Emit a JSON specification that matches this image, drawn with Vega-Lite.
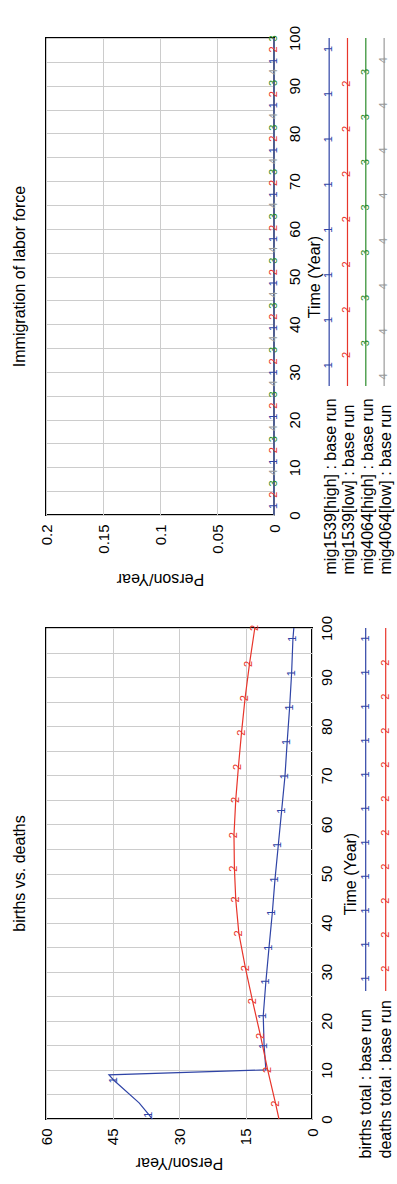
{
  "$schema": "https://vega.github.io/schema/vega-lite/v6.json",
  "autosize": {"type": "pad"},
  "padding": {"left": 10, "top": 24, "right": 0, "bottom": 0},
  "background": "white",
  "datasets": {
    "bd": [
      {"series": "births total : base run", "t": 0, "v": 36.0},
      {"series": "births total : base run", "t": 0.9, "v": 36.8, "m": "1"},
      {"series": "births total : base run", "t": 3.3, "v": 39.0},
      {"series": "births total : base run", "t": 7.9, "v": 44.7, "m": "1"},
      {"series": "births total : base run", "t": 9, "v": 45.8},
      {"series": "births total : base run", "t": 10, "v": 10.4},
      {"series": "births total : base run", "t": 14.9, "v": 10.8, "m": "1"},
      {"series": "births total : base run", "t": 21, "v": 11.0, "m": "1"},
      {"series": "births total : base run", "t": 28, "v": 10.4, "m": "1"},
      {"series": "births total : base run", "t": 34.9, "v": 9.7, "m": "1"},
      {"series": "births total : base run", "t": 42, "v": 8.95, "m": "1"},
      {"series": "births total : base run", "t": 48.8, "v": 8.35, "m": "1"},
      {"series": "births total : base run", "t": 55.8, "v": 7.6, "m": "1"},
      {"series": "births total : base run", "t": 62.8, "v": 6.85, "m": "1"},
      {"series": "births total : base run", "t": 69.8, "v": 6.1, "m": "1"},
      {"series": "births total : base run", "t": 76.8, "v": 5.6, "m": "1"},
      {"series": "births total : base run", "t": 83.8, "v": 5.05, "m": "1"},
      {"series": "births total : base run", "t": 90.8, "v": 4.6, "m": "1"},
      {"series": "births total : base run", "t": 97.8, "v": 4.3, "m": "1"},
      {"series": "births total : base run", "t": 100, "v": 4.1},
      {"series": "deaths total : base run", "t": 0, "v": 7.45},
      {"series": "deaths total : base run", "t": 3.1, "v": 8.2, "m": "2"},
      {"series": "deaths total : base run", "t": 10, "v": 10.0, "m": "2"},
      {"series": "deaths total : base run", "t": 16.9, "v": 11.6, "m": "2"},
      {"series": "deaths total : base run", "t": 24, "v": 13.4, "m": "2"},
      {"series": "deaths total : base run", "t": 30.7, "v": 15.0, "m": "2"},
      {"series": "deaths total : base run", "t": 37.8, "v": 16.5, "m": "2"},
      {"series": "deaths total : base run", "t": 44.7, "v": 17.2, "m": "2"},
      {"series": "deaths total : base run", "t": 51, "v": 17.5, "m": "2"},
      {"series": "deaths total : base run", "t": 57.8, "v": 17.6, "m": "2"},
      {"series": "deaths total : base run", "t": 65, "v": 17.2, "m": "2"},
      {"series": "deaths total : base run", "t": 71.7, "v": 16.6, "m": "2"},
      {"series": "deaths total : base run", "t": 78.7, "v": 15.9, "m": "2"},
      {"series": "deaths total : base run", "t": 85.7, "v": 15.1, "m": "2"},
      {"series": "deaths total : base run", "t": 92.7, "v": 14.1, "m": "2"},
      {"series": "deaths total : base run", "t": 100, "v": 12.9, "m": "2"}
    ],
    "mig": [
      {"series": "mig1539[high] : base run", "t": 0, "v": 0},
      {"series": "mig1539[high] : base run", "t": 1.9, "v": 0, "m": "1"},
      {"series": "mig1539[high] : base run", "t": 11.2, "v": 0, "m": "1"},
      {"series": "mig1539[high] : base run", "t": 20.6, "v": 0, "m": "1"},
      {"series": "mig1539[high] : base run", "t": 29.9, "v": 0, "m": "1"},
      {"series": "mig1539[high] : base run", "t": 39.2, "v": 0, "m": "1"},
      {"series": "mig1539[high] : base run", "t": 48.6, "v": 0, "m": "1"},
      {"series": "mig1539[high] : base run", "t": 57.9, "v": 0, "m": "1"},
      {"series": "mig1539[high] : base run", "t": 67.2, "v": 0, "m": "1"},
      {"series": "mig1539[high] : base run", "t": 76.5, "v": 0, "m": "1"},
      {"series": "mig1539[high] : base run", "t": 85.9, "v": 0, "m": "1"},
      {"series": "mig1539[high] : base run", "t": 95.2, "v": 0, "m": "1"},
      {"series": "mig1539[high] : base run", "t": 100, "v": 0},
      {"series": "mig1539[low] : base run", "t": 0, "v": 0},
      {"series": "mig1539[low] : base run", "t": 4.25, "v": 0, "m": "2"},
      {"series": "mig1539[low] : base run", "t": 13.6, "v": 0, "m": "2"},
      {"series": "mig1539[low] : base run", "t": 22.9, "v": 0, "m": "2"},
      {"series": "mig1539[low] : base run", "t": 32.2, "v": 0, "m": "2"},
      {"series": "mig1539[low] : base run", "t": 41.6, "v": 0, "m": "2"},
      {"series": "mig1539[low] : base run", "t": 50.9, "v": 0, "m": "2"},
      {"series": "mig1539[low] : base run", "t": 60.2, "v": 0, "m": "2"},
      {"series": "mig1539[low] : base run", "t": 69.6, "v": 0, "m": "2"},
      {"series": "mig1539[low] : base run", "t": 78.9, "v": 0, "m": "2"},
      {"series": "mig1539[low] : base run", "t": 88.2, "v": 0, "m": "2"},
      {"series": "mig1539[low] : base run", "t": 97.6, "v": 0, "m": "2"},
      {"series": "mig1539[low] : base run", "t": 100, "v": 0},
      {"series": "mig4064[high] : base run", "t": 0, "v": 0},
      {"series": "mig4064[high] : base run", "t": 6.6, "v": 0, "m": "3"},
      {"series": "mig4064[high] : base run", "t": 15.9, "v": 0, "m": "3"},
      {"series": "mig4064[high] : base run", "t": 25.3, "v": 0, "m": "3"},
      {"series": "mig4064[high] : base run", "t": 34.6, "v": 0, "m": "3"},
      {"series": "mig4064[high] : base run", "t": 43.9, "v": 0, "m": "3"},
      {"series": "mig4064[high] : base run", "t": 53.3, "v": 0, "m": "3"},
      {"series": "mig4064[high] : base run", "t": 62.6, "v": 0, "m": "3"},
      {"series": "mig4064[high] : base run", "t": 71.9, "v": 0, "m": "3"},
      {"series": "mig4064[high] : base run", "t": 81.2, "v": 0, "m": "3"},
      {"series": "mig4064[high] : base run", "t": 90.6, "v": 0, "m": "3"},
      {"series": "mig4064[high] : base run", "t": 99.9, "v": 0, "m": "3"},
      {"series": "mig4064[high] : base run", "t": 100, "v": 0},
      {"series": "mig4064[low] : base run", "t": 0, "v": 0},
      {"series": "mig4064[low] : base run", "t": 8.9, "v": 0, "m": "4"},
      {"series": "mig4064[low] : base run", "t": 18.2, "v": 0, "m": "4"},
      {"series": "mig4064[low] : base run", "t": 27.6, "v": 0, "m": "4"},
      {"series": "mig4064[low] : base run", "t": 36.9, "v": 0, "m": "4"},
      {"series": "mig4064[low] : base run", "t": 46.2, "v": 0, "m": "4"},
      {"series": "mig4064[low] : base run", "t": 55.6, "v": 0, "m": "4"},
      {"series": "mig4064[low] : base run", "t": 64.9, "v": 0, "m": "4"},
      {"series": "mig4064[low] : base run", "t": 74.2, "v": 0, "m": "4"},
      {"series": "mig4064[low] : base run", "t": 83.6, "v": 0, "m": "4"},
      {"series": "mig4064[low] : base run", "t": 92.9, "v": 0, "m": "4"},
      {"series": "mig4064[low] : base run", "t": 100, "v": 0}
    ],
    "legTopSeries": [
      {"series": "mig1539[high] : base run"},
      {"series": "mig1539[low] : base run"},
      {"series": "mig4064[high] : base run"},
      {"series": "mig4064[low] : base run"}
    ],
    "legTop": [
      {"series": "mig1539[high] : base run", "u": 0.24, "m": "1"},
      {"series": "mig1539[high] : base run", "u": 1.24, "m": "1"},
      {"series": "mig1539[high] : base run", "u": 2.24, "m": "1"},
      {"series": "mig1539[high] : base run", "u": 3.24, "m": "1"},
      {"series": "mig1539[high] : base run", "u": 4.24, "m": "1"},
      {"series": "mig1539[high] : base run", "u": 5.24, "m": "1"},
      {"series": "mig1539[high] : base run", "u": 6.24, "m": "1"},
      {"series": "mig1539[high] : base run", "u": 7.24, "m": "1"},
      {"series": "mig1539[low] : base run", "u": 1.01, "m": "2"},
      {"series": "mig1539[low] : base run", "u": 2.01, "m": "2"},
      {"series": "mig1539[low] : base run", "u": 3.01, "m": "2"},
      {"series": "mig1539[low] : base run", "u": 4.01, "m": "2"},
      {"series": "mig1539[low] : base run", "u": 5.01, "m": "2"},
      {"series": "mig1539[low] : base run", "u": 6.01, "m": "2"},
      {"series": "mig1539[low] : base run", "u": 7.01, "m": "2"},
      {"series": "mig4064[high] : base run", "u": 0.75, "m": "3"},
      {"series": "mig4064[high] : base run", "u": 1.75, "m": "3"},
      {"series": "mig4064[high] : base run", "u": 2.75, "m": "3"},
      {"series": "mig4064[high] : base run", "u": 3.75, "m": "3"},
      {"series": "mig4064[high] : base run", "u": 4.75, "m": "3"},
      {"series": "mig4064[high] : base run", "u": 5.75, "m": "3"},
      {"series": "mig4064[high] : base run", "u": 6.75, "m": "3"},
      {"series": "mig4064[low] : base run", "u": 0.49, "m": "4"},
      {"series": "mig4064[low] : base run", "u": 1.49, "m": "4"},
      {"series": "mig4064[low] : base run", "u": 2.49, "m": "4"},
      {"series": "mig4064[low] : base run", "u": 3.49, "m": "4"},
      {"series": "mig4064[low] : base run", "u": 4.49, "m": "4"},
      {"series": "mig4064[low] : base run", "u": 5.49, "m": "4"},
      {"series": "mig4064[low] : base run", "u": 6.49, "m": "4"},
      {"series": "mig4064[low] : base run", "u": 7.49, "m": "4"}
    ],
    "legBotSeries": [
      {"series": "births total : base run"},
      {"series": "deaths total : base run"}
    ],
    "legBot": [
      {"series": "births total : base run", "u": 0.31, "m": "1"},
      {"series": "births total : base run", "u": 1.31, "m": "1"},
      {"series": "births total : base run", "u": 2.31, "m": "1"},
      {"series": "births total : base run", "u": 3.31, "m": "1"},
      {"series": "births total : base run", "u": 4.31, "m": "1"},
      {"series": "births total : base run", "u": 5.31, "m": "1"},
      {"series": "births total : base run", "u": 6.31, "m": "1"},
      {"series": "births total : base run", "u": 7.31, "m": "1"},
      {"series": "births total : base run", "u": 8.31, "m": "1"},
      {"series": "births total : base run", "u": 9.31, "m": "1"},
      {"series": "births total : base run", "u": 10.31, "m": "1"},
      {"series": "deaths total : base run", "u": 1.02, "m": "2"},
      {"series": "deaths total : base run", "u": 2.02, "m": "2"},
      {"series": "deaths total : base run", "u": 3.02, "m": "2"},
      {"series": "deaths total : base run", "u": 4.02, "m": "2"},
      {"series": "deaths total : base run", "u": 5.02, "m": "2"},
      {"series": "deaths total : base run", "u": 6.02, "m": "2"},
      {"series": "deaths total : base run", "u": 7.02, "m": "2"},
      {"series": "deaths total : base run", "u": 8.02, "m": "2"},
      {"series": "deaths total : base run", "u": 9.02, "m": "2"},
      {"series": "deaths total : base run", "u": 10.02, "m": "2"}
    ]
  },
  "vconcat": [
    {
      "hconcat": [
        {
          "width": 228,
          "height": 477,
          "title": {"text": "Immigration of labor force", "orient": "left", "offset": 11},
          "data": {"name": "mig"},
          "encoding": {
            "x": {"field": "v", "type": "quantitative",
              "scale": {"domain": [0, 0.2], "reverse": true, "nice": false, "zero": false},
              "axis": {"values": [0, 0.05, 0.1, 0.15, 0.2], "format": "~g", "labelAngle": 270, "labelAlign": "right", "labelBaseline": "middle", "labelPadding": 9,
                "title": "Person/Year", "titleAngle": 180, "titleBaseline": "bottom", "titlePadding": 17}},
            "y": {"field": "t", "type": "quantitative",
              "scale": {"domain": [0, 100], "nice": false},
              "axis": {"orient": "right", "values": [0,5,10,15,20,25,30,35,40,45,50,55,60,65,70,75,80,85,90,95,100],
                "labelExpr": "datum.value % 10 === 0 ? datum.label : ''", "labelAngle": 270, "labelAlign": "center", "labelBaseline": "top", "labelPadding": 13,
                "title": "Time (Year)", "titleAngle": 270, "titleBaseline": "top", "titlePadding": 4}},
            "color": {"field": "series", "type": "nominal",
              "scale": {"domain": ["mig1539[high] : base run", "mig1539[low] : base run", "mig4064[high] : base run", "mig4064[low] : base run"],
                "range": ["#2f44a6", "#e8352b", "#2b8c2b", "#9a9a9a"]}, "legend": null}
          },
          "layer": [
            {"mark": {"type": "line", "strokeWidth": 1.2}, "encoding": {"order": {"field": "t", "type": "quantitative"}}},
            {"transform": [{"filter": "datum.series === 'mig1539[high] : base run'"}], "mark": {"type": "line", "strokeWidth": 1.2}, "encoding": {"order": {"field": "t", "type": "quantitative"}}},
            {"transform": [{"filter": "datum.m"}], "mark": {"type": "text", "angle": 270, "fontSize": 11, "align": "center", "baseline": "middle"}, "encoding": {"text": {"field": "m"}}}
          ]
        },
        {
          "width": 73.3,
          "height": 348,
          "view": {"stroke": null},
          "encoding": {
            "x": {"field": "series", "type": "nominal",
              "scale": {"domain": ["mig1539[high] : base run", "mig1539[low] : base run", "mig4064[high] : base run", "mig4064[low] : base run"], "paddingInner": 0, "paddingOuter": 0},
              "axis": {"title": null, "grid": false, "labelAngle": 270, "labelAlign": "left", "labelBaseline": "middle", "labelPadding": 188, "labelOffset": 2, "labelFontSize": 16, "labelLimit": 400, "labelOverlap": false}},
            "color": {"field": "series", "type": "nominal",
              "scale": {"domain": ["mig1539[high] : base run", "mig1539[low] : base run", "mig4064[high] : base run", "mig4064[low] : base run"],
                "range": ["#2f44a6", "#e8352b", "#2b8c2b", "#9a9a9a"]}, "legend": null}
          },
          "layer": [
            {"data": {"name": "legTopSeries"}, "mark": {"type": "rule", "strokeWidth": 1.2}},
            {"data": {"name": "legTop"}, "mark": {"type": "text", "angle": 270, "fontSize": 11, "align": "center", "baseline": "middle"},
              "encoding": {"y": {"field": "u", "type": "quantitative", "scale": {"domain": [0, 7.7], "reverse": true, "nice": false, "zero": false}, "axis": null}, "text": {"field": "m"}}}
          ]
        }
      ],
      "spacing": 46,
      "bounds": "flush"
    },
    {
      "hconcat": [
        {
          "width": 266,
          "height": 491,
          "title": {"text": "births vs. deaths", "orient": "left", "offset": 11},
          "data": {"name": "bd"},
          "encoding": {
            "x": {"field": "v", "type": "quantitative",
              "scale": {"domain": [0, 60], "reverse": true, "nice": false, "zero": false},
              "axis": {"values": [0, 15, 30, 45, 60], "labelAngle": 270, "labelAlign": "right", "labelBaseline": "middle", "labelPadding": 9,
                "title": "Person/Year", "titleAngle": 180, "titleBaseline": "bottom", "titlePadding": 10}},
            "y": {"field": "t", "type": "quantitative",
              "scale": {"domain": [0, 100], "nice": false},
              "axis": {"orient": "right", "values": [0,5,10,15,20,25,30,35,40,45,50,55,60,65,70,75,80,85,90,95,100],
                "labelExpr": "datum.value % 10 === 0 ? datum.label : ''", "labelAngle": 270, "labelAlign": "center", "labelBaseline": "top", "labelPadding": 7,
                "title": "Time (Year)", "titleAngle": 270, "titleBaseline": "top", "titlePadding": 8}},
            "color": {"field": "series", "type": "nominal",
              "scale": {"domain": ["births total : base run", "deaths total : base run"], "range": ["#2f44a6", "#e8352b"]}, "legend": null}
          },
          "layer": [
            {"mark": {"type": "line", "strokeWidth": 1.2}, "encoding": {"order": {"field": "t", "type": "quantitative"}}},
            {"transform": [{"filter": "datum.m"}], "mark": {"type": "text", "angle": 270, "fontSize": 11, "align": "center", "baseline": "middle"}, "encoding": {"text": {"field": "m"}}}
          ]
        },
        {
          "width": 40,
          "height": 363,
          "view": {"stroke": null},
          "encoding": {
            "x": {"field": "series", "type": "nominal",
              "scale": {"domain": ["births total : base run", "deaths total : base run"], "paddingInner": 0, "paddingOuter": 0},
              "axis": {"title": null, "grid": false, "labelAngle": 270, "labelAlign": "left", "labelBaseline": "middle", "labelPadding": 167, "labelOffset": 0, "labelFontSize": 16, "labelLimit": 400, "labelOverlap": false}},
            "color": {"field": "series", "type": "nominal",
              "scale": {"domain": ["births total : base run", "deaths total : base run"], "range": ["#2f44a6", "#e8352b"]}, "legend": null}
          },
          "layer": [
            {"data": {"name": "legBotSeries"}, "mark": {"type": "rule", "strokeWidth": 1.2}},
            {"data": {"name": "legBot"}, "mark": {"type": "text", "angle": 270, "fontSize": 11, "align": "center", "baseline": "middle"},
              "encoding": {"y": {"field": "u", "type": "quantitative", "scale": {"domain": [0, 10.68], "reverse": true, "nice": false, "zero": false}, "axis": null}, "text": {"field": "m"}}}
          ]
        }
      ],
      "spacing": 43.7,
      "bounds": "flush"
    }
  ],
  "spacing": 590,
  "bounds": "flush",
  "config": {
    "font": "Liberation Sans",
    "view": {"stroke": "#000000", "strokeWidth": 2},
    "axis": {
      "grid": true, "gridColor": "#cccccc", "gridWidth": 1,
      "ticks": false, "domain": false,
      "labelFont": "Liberation Sans", "labelFontSize": 15, "labelColor": "#000000",
      "titleFont": "Liberation Sans", "titleFontSize": 16, "titleFontWeight": "normal", "titleColor": "#000000"
    },
    "title": {"font": "Liberation Sans", "fontSize": 16, "fontWeight": "normal", "color": "#000000"}
  }
}
